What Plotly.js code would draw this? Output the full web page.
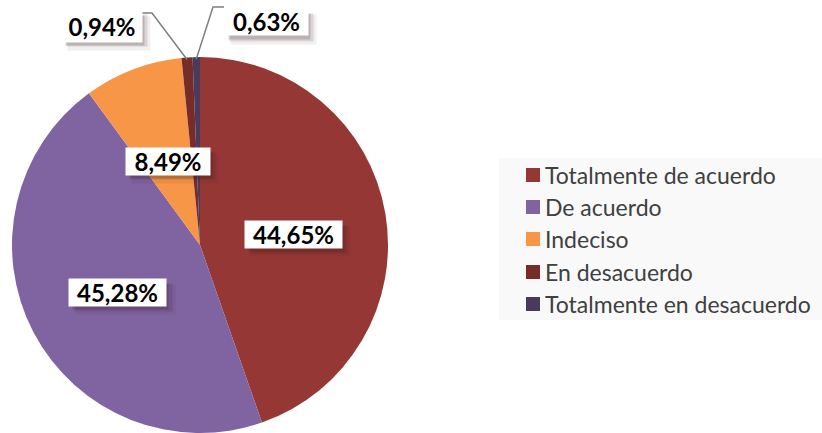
<!DOCTYPE html>
<html>
<head>
<meta charset="utf-8">
<script src="https://cdn.plot.ly/plotly-3.0.1.min.js"></script>
<style>html,body{margin:0;padding:0;background:#fff;}#chart{width:822px;height:433px;}</style>
</head>
<body>
<div id="chart"></div>
<script>
// ---- data ----
var categories = ["Totalmente de acuerdo", "De acuerdo", "Indeciso", "En desacuerdo", "Totalmente en desacuerdo"];
var percentages = [44.65, 45.28, 8.49, 0.94, 0.63];
var valueLabels = ["44,65%", "45,28%", "8,49%", "0,94%", "0,63%"];
var colors = ["#953735", "#8064A2", "#F79646", "#772C2A", "#4A3B5E"];

// ---- layout helpers (pixel -> paper) ----
var W = 822, H = 433;
function px(x) { return x / W; }
function py(y) { return 1 - y / H; }

// pie geometry in pixels
var cx = 200, cy = 245, r = 188;

// label box centres and sizes (pixels), leader line starts
var labelPos = [[293, 234], [118, 292], [168, 161], [102, 26], [266, 22]];
var labelSize = [[97, 27], [97, 27], [84, 27], [80, 31], [83, 27]];
var leaderStart = [null, null, null, [[142, 13], [152, 13]], [[224, 7], [213, 7]]];

var annotations = [];
var shapes = [];
var labelFont = 'Lato, "Open Sans", sans-serif';

var total = percentages.reduce(function (a, b) { return a + b; }, 0);
var cum = 0;
for (var i = 0; i < categories.length; i++) {
  var mid = (cum + percentages[i] / 2) / total * 2 * Math.PI;
  cum += percentages[i];
  var lp = labelPos[i], ls = labelSize[i];
  // soft shadow layers
  var shadowLayers = [[7, 7, 2, 0.07], [5, 5, 0, 0.12], [3, 4, -2, 0.18]];
  shadowLayers.forEach(function (s) {
    annotations.push({
      xref: 'paper', yref: 'paper', x: px(lp[0] + s[0]), y: py(lp[1] + s[1]),
      xanchor: 'center', yanchor: 'middle',
      width: ls[0] + s[2], height: ls[1] + s[2],
      text: ' ', showarrow: false, borderpad: 0,
      bgcolor: 'rgba(50,25,25,' + s[3] + ')'
    });
  });
  annotations.push({
    xref: 'paper', yref: 'paper', x: px(lp[0]), y: py(lp[1]),
    xanchor: 'center', yanchor: 'middle',
    width: ls[0], height: ls[1], borderpad: 0,
    text: '<b>' + valueLabels[i] + '</b>', showarrow: false,
    font: {family: labelFont, size: 24, color: '#000000'},
    bgcolor: '#ffffff'
  });
  if (leaderStart[i]) {
    var ex = cx + r * Math.sin(mid), ey = cy - r * Math.cos(mid);
    var a = leaderStart[i][0], b = leaderStart[i][1];
    shapes.push({
      type: 'path', xref: 'paper', yref: 'paper',
      path: 'M ' + px(a[0]) + ' ' + py(a[1]) + ' L ' + px(b[0]) + ' ' + py(b[1]) + ' L ' + px(ex) + ' ' + py(ey + 2),
      line: {color: '#7f7f7f', width: 1.5}
    });
  }
}

// manual legend
shapes.push({
  type: 'rect', xref: 'paper', yref: 'paper', layer: 'below',
  x0: px(499), x1: px(822), y0: py(158), y1: py(320),
  fillcolor: '#f9f9f9', line: {width: 0}
});
var legendRowY = [175, 207, 239, 272, 304];
for (var k = 0; k < categories.length; k++) {
  shapes.push({
    type: 'rect', xref: 'paper', yref: 'paper',
    x0: px(526), x1: px(540), y0: py(legendRowY[k] - 7), y1: py(legendRowY[k] + 7),
    fillcolor: colors[k], line: {width: 0}
  });
  annotations.push({
    xref: 'paper', yref: 'paper', x: px(543), y: py(legendRowY[k]),
    xanchor: 'left', yanchor: 'middle', showarrow: false,
    text: categories[k],
    font: {family: labelFont, size: 23, color: '#404040'}
  });
}

var trace = {
  type: 'pie',
  labels: categories,
  values: percentages,
  sort: false,
  direction: 'clockwise',
  rotation: 0,
  textinfo: 'none',
  hoverinfo: 'label+percent',
  marker: {colors: colors, line: {width: 0}},
  domain: {x: [px(cx - r), px(cx + r)], y: [py(cy + r), py(cy - r)]},
  showlegend: false
};

var layout = {
  width: W, height: H,
  margin: {l: 0, r: 0, t: 0, b: 0},
  paper_bgcolor: '#ffffff',
  showlegend: false,
  annotations: annotations,
  shapes: shapes
};

Plotly.newPlot('chart', [trace], layout, {displayModeBar: false, staticPlot: true});
</script>
</body>
</html>
